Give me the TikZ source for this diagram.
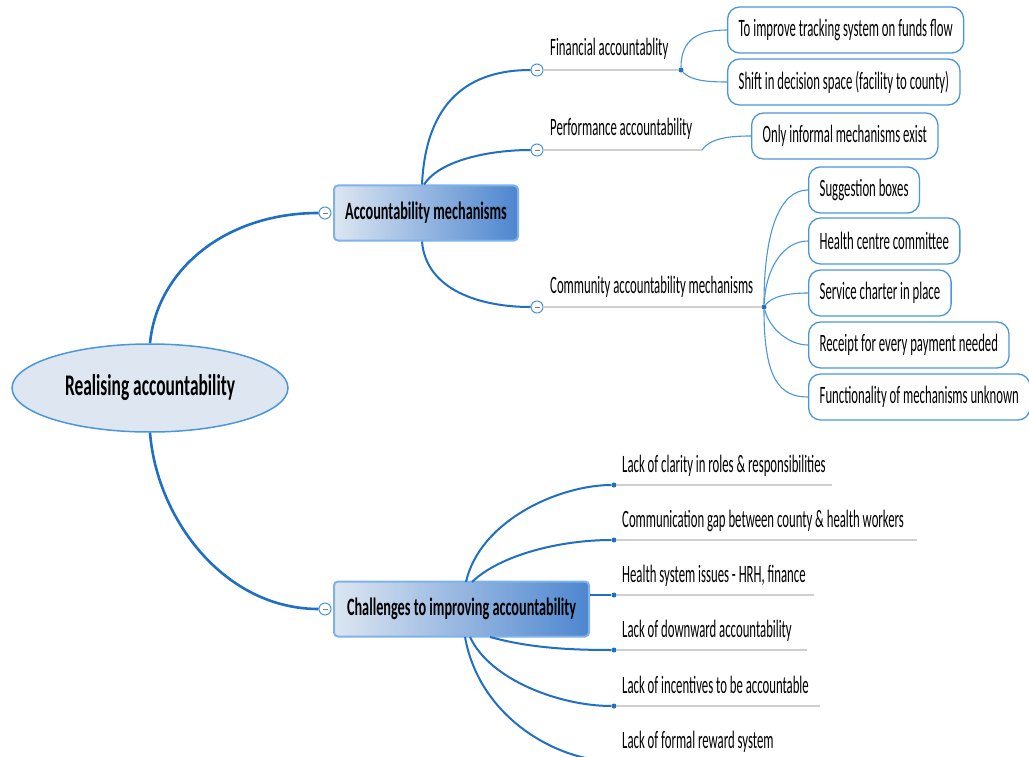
\documentclass[tikz,border=0pt]{standalone}
\usepackage{fontspec}
\newfontfamily\mapfont[FakeStretch=0.51]{Carlito}
\newfontfamily\mapbold[FakeStretch=0.57]{Carlito Bold}
\newfontfamily\rootfont[FakeStretch=0.58]{Carlito Bold}
\usetikzlibrary{shapes.geometric}
\definecolor{mainblue}{HTML}{1F6FC5}
\definecolor{leafblue}{HTML}{4A96DC}
\definecolor{rulegrey}{HTML}{CFCFCF}
\definecolor{rootfill}{HTML}{DDE6F1}
\definecolor{boxedge}{HTML}{7FB2EA}
\definecolor{boxdeep}{HTML}{4D86CF}
\tikzset{
  rootnode/.style={ellipse, draw=leafblue, line width=1.5pt, fill=rootfill,
    minimum width=276, minimum height=88, inner sep=0,
    font=\rootfont\fontsize{30}{33}\selectfont},
  topicbox/.style={draw=boxedge, line width=2pt, rounded corners=4pt,
    shading=axis, left color=rootfill, right color=boxdeep,
    minimum height=55, inner xsep=9, anchor=west,
    font=\mapbold\fontsize{25}{28}\selectfont},
  leafbox/.style={draw=leafblue, line width=1.3pt, rounded corners=12pt, fill=white,
    minimum height=46, inner xsep=11, anchor=west,
    font=\mapfont\fontsize{25}{28}\selectfont},
  label/.style={anchor=base west, inner sep=0, font=\mapfont\fontsize{25}{28}\selectfont},
  knob/.style={circle, draw=leafblue, line width=1pt, fill=white, minimum size=12, inner sep=0},
  dot/.style={circle, fill=mainblue, minimum size=5, inner sep=0},
  trunk/.style={draw=mainblue, line width=2.6pt},
  twig/.style={draw=mainblue, line width=2pt},
  leafline/.style={draw=leafblue, line width=1.1pt},
  rule/.style={draw=rulegrey, line width=2pt},
}
\begin{document}
\begin{tikzpicture}[x=1pt,y=-1pt]
\useasboundingbox (0,0) rectangle (1029,757);

% central topic
\node[rootnode] (root) at (150,388) {Realising accountability};

% main topics with their collapse knobs
\node[topicbox, minimum width=184] (mech) at (333,213) {Accountability mechanisms};
\node[topicbox, minimum width=255] (chal) at (333,609) {Challenges to improving accountability};
\node[knob] (kmech) at (325,213) {};
\node[knob] (kchal) at (325,609) {};
\foreach \k in {kmech,kchal}
  \draw[rulegrey!60!black, line width=0.8pt] ([xshift=-2.5pt]\k.center) -- ([xshift=2.5pt]\k.center);

\draw[trunk] (root.north) .. controls (157,270) and (225,213) .. (kmech.west);
\draw[trunk] (root.south) .. controls (157,520) and (225,609) .. (kchal.west);

% sub-topics of the accountability mechanisms
\node[knob] (kfin) at (537,70) {};
\node[knob] (kperf) at (537,150) {};
\node[knob] (kcom) at (537,307) {};
\foreach \k in {kfin,kperf,kcom}
  \draw[rulegrey!60!black, line width=0.8pt] ([xshift=-2.5pt]\k.center) -- ([xshift=2.5pt]\k.center);

\node[label] (lfin) at (550,56) {Financial accountablity};
\node[label] (lperf) at (550,136) {Performance accountability};
\node[label] (lcom) at (550,293) {Community accountability mechanisms};

\node[dot] (dfin) at (681,70) {};
\coordinate (eperf) at (702,150);
\node[dot] (dcom) at (764,307) {};

\draw[rule] (kfin.east) -- (dfin);
\draw[rule] (kperf.east) -- (eperf);
\draw[rule] (kcom.east) -- (dcom);

\draw[twig] ([xshift=-4pt]mech.north) .. controls (426,100) and (470,70) .. (kfin.west);
\draw[twig] ([xshift=-2pt]mech.north) .. controls (440,160) and (490,150) .. (kperf.west);
\draw[twig] ([xshift=-4pt]mech.south) .. controls (426,290) and (480,307) .. (kcom.west);

% leaves
\node[leafbox] (f1) at (727,30) {To improve tracking system on funds flow};
\node[leafbox] (f2) at (727,82) {Shift in decision space (facility to county)};
\node[leafbox] (p1) at (751,136) {Only informal mechanisms exist};
\node[leafbox] (c1) at (808,190) {Suggestion boxes};
\node[leafbox] (c2) at (808,241) {Health centre committee};
\node[leafbox] (c3) at (808,293) {Service charter in place};
\node[leafbox] (c4) at (808,345) {Receipt for every payment needed};
\node[leafbox] (c5) at (808,397) {Functionality of mechanisms unknown};

\draw[leafline] (dfin) .. controls (681,38) and (700,30) .. (f1.west);
\draw[leafline] (dfin) .. controls (690,80) and (705,82) .. (f2.west);
\draw[leafline] (eperf) .. controls (710,138) and (730,136) .. (p1.west);
\draw[leafline] (dcom) .. controls (764,230) and (780,190) .. (c1.west);
\draw[leafline] (dcom) .. controls (766,265) and (785,241) .. (c2.west);
\draw[leafline] (dcom) .. controls (772,296) and (790,293) .. (c3.west);
\draw[leafline] (dcom) .. controls (770,330) and (790,345) .. (c4.west);
\draw[leafline] (dcom) .. controls (764,380) and (780,397) .. (c5.west);

% challenges
\foreach \n/\y/\len/\txt in {
  1/485/832/{Lack of clarity in roles \& responsibilities},
  2/540/917/{Communication gap between county \& health workers},
  3/595/814/{Health system issues - HRH, finance},
  4/650/807/{Lack of downward accountability},
  5/706/820/{Lack of incentives to be accountable},
  6/761/800/{Lack of formal reward system}} {
  \node[dot] (b\n) at (614,\y) {};
  \coordinate (r\n) at (\len,\y);
  \draw[rule] (b\n) -- (r\n);
  \node[label] (t\n) at (622,\y-13) {\txt};
}
\draw[twig] (466,582) .. controls (480,520) and (560,485) .. (b1);
\draw[twig] (472,582) .. controls (500,555) and (560,540) .. (b2);
\draw[twig] (chal.east |- b3) -- (b3);
\draw[twig] (490,637) .. controls (530,648) and (570,650) .. (b4);
\draw[twig] (470,637) .. controls (490,680) and (560,706) .. (b5);
\draw[twig] (465,637) .. controls (480,720) and (560,761) .. (b6);
\end{tikzpicture}
\end{document}
